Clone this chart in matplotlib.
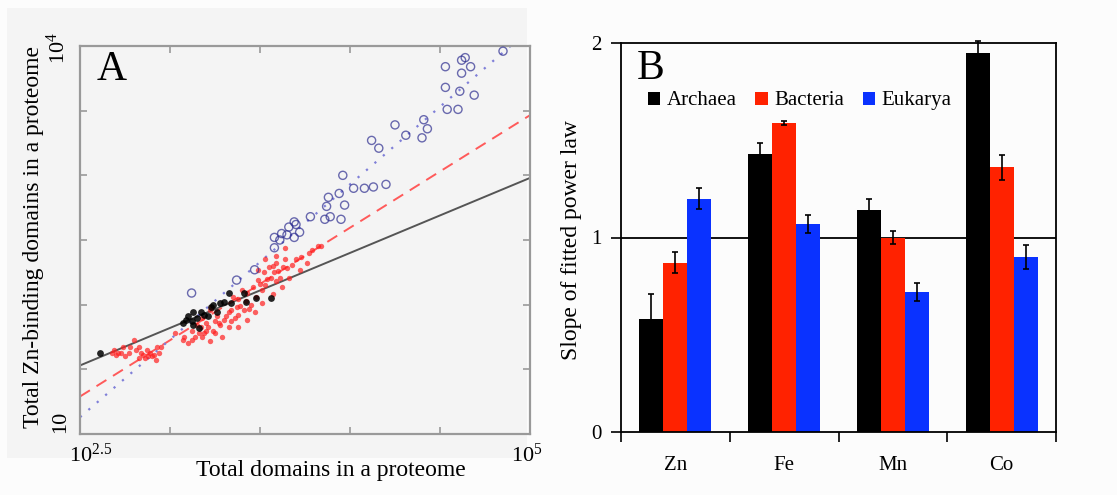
import numpy as np
import matplotlib.pyplot as plt
from matplotlib.patches import Rectangle, Patch
from matplotlib.ticker import NullLocator, FixedLocator
import matplotlib.transforms as mtransforms

plt.rcParams['font.family'] = ['Liberation Serif', 'DejaVu Serif']
plt.rcParams['mathtext.fontset'] = 'custom'
plt.rcParams['mathtext.rm'] = 'Liberation Serif'
plt.rcParams['mathtext.it'] = 'Liberation Serif:italic'

# ---- panel A data (log10 of total domains, log10 of Zn-binding domains)
arch_logx = [2.61, 3.09, 3.12, 3.13, 3.16, 3.13, 3.17, 3.19, 3.21, 3.23, 3.24, 3.28,
             3.30, 3.33, 3.34, 3.41, 3.42, 3.48, 3.56, 3.10, 3.15, 3.07, 3.26]
arch_logy = [1.63, 1.88, 1.87, 1.84, 1.82, 1.94, 1.94, 1.92, 1.91, 1.98, 2.00, 2.01,
             2.02, 2.09, 2.01, 2.09, 2.02, 2.05, 2.05, 1.91, 1.90, 1.86, 1.94]

bact_logx = [2.68, 2.69, 2.70, 2.71, 2.73, 2.74, 2.75, 2.77, 2.78, 2.80, 2.81, 2.83, 2.83,
             2.84, 2.85, 2.86, 2.87, 2.88, 2.89, 2.90, 2.91, 2.92, 2.93, 2.94, 2.95,
             3.03, 3.07, 3.08, 3.12, 3.12, 3.14, 3.16, 3.17, 3.18, 3.18,
             3.20, 3.20, 3.22, 3.23, 3.24, 3.25, 3.25, 3.27, 3.28, 3.29,
             3.31, 3.33, 3.33, 3.34, 3.34, 3.35, 3.37, 3.38, 3.38, 3.38,
             3.40, 3.41, 3.43, 3.43, 3.45, 3.46, 3.47, 3.48, 3.49, 3.49,
             3.51, 3.51, 3.52, 3.53, 3.53, 3.55, 3.56, 3.57, 3.58, 3.59,
             3.59, 3.59, 3.61, 3.62, 3.63, 3.64, 3.64, 3.66, 3.68, 3.70,
             3.72, 3.73, 3.76, 3.77, 3.79, 3.82, 3.84,
             3.15, 3.19, 3.21, 3.26, 3.30, 3.36, 3.39, 3.42, 3.44, 3.50,
             3.54, 3.57, 3.60, 3.65, 3.10, 3.22]
bact_logy = [1.63, 1.65, 1.61, 1.63, 1.63, 1.67, 1.60, 1.63, 1.67, 1.73, 1.65, 1.67, 1.59,
             1.63, 1.61, 1.59, 1.65, 1.60, 1.63, 1.60, 1.61, 1.57, 1.67, 1.63, 1.67,
             1.78, 1.73, 1.75, 1.73, 1.80, 1.75, 1.78, 1.83, 1.75, 1.90,
             1.86, 1.80, 1.96, 1.98, 1.80, 1.87, 1.78, 1.86, 1.84, 1.75,
             1.91, 1.94, 1.83, 1.87, 1.96, 2.06, 1.98, 1.92, 2.04, 1.83,
             2.11, 1.96, 2.09, 1.88, 2.00, 2.14, 1.94, 2.06, 2.19, 2.27,
             2.11, 2.01, 2.25, 2.15, 2.35, 2.29, 2.21, 2.08, 2.25, 2.32,
             2.18, 2.38, 2.21, 2.14, 2.29, 2.44, 2.35, 2.21, 2.31, 2.35,
             2.27, 2.37, 2.32, 2.40, 2.42, 2.45, 2.45,
             1.84, 1.78, 1.83, 1.91, 1.88, 1.90, 1.99, 2.03, 1.97, 2.16,
             2.20, 2.30, 2.26, 2.28, 1.70, 1.72]

euk_logx = [3.12, 3.37, 3.47, 3.58, 3.62, 3.66, 3.69, 3.70, 3.72, 3.69, 3.58, 3.61, 3.65,
            3.78, 3.86, 3.89, 3.95, 3.87, 3.88, 3.94, 3.97, 3.96, 4.02, 4.08, 4.13, 4.20,
            4.12, 4.16, 4.25, 4.31, 4.40, 4.41, 4.43, 4.54, 4.60, 4.53, 4.61, 4.69, 4.53,
            4.62, 4.62, 4.64, 4.67, 4.85]
euk_logy = [2.09, 2.19, 2.27, 2.52, 2.55, 2.60, 2.64, 2.62, 2.56, 2.52, 2.44, 2.50, 2.54,
            2.68, 2.66, 2.68, 2.66, 2.76, 2.83, 2.86, 2.77, 3.00, 2.90, 2.90, 2.91, 2.93,
            3.27, 3.21, 3.39, 3.31, 3.29, 3.43, 3.36, 3.51, 3.51, 3.68, 3.65, 3.62, 3.84,
            3.79, 3.89, 3.91, 3.84, 3.96]

# power law fits: log10(y) at log10(x)=2.5 (slopes are the Zn bars of panel B)
fit_intercept = [1.53, 1.29, 1.13]

# ---- panel B data
metals = ['Zn', 'Fe', 'Mn', 'Co']
archaea = [0.58, 1.43, 1.14, 1.95]
archaea_err = [0.13, 0.055, 0.06, 0.06]
bacteria = [0.87, 1.59, 1.00, 1.36]
bacteria_err = [0.055, 0.01, 0.033, 0.065]
eukarya = [1.20, 1.07, 0.72, 0.90]
eukarya_err = [0.055, 0.045, 0.047, 0.06]

W, H = 1117, 495
fig = plt.figure(figsize=(W / 100, H / 100), dpi=100, facecolor='#fcfcfc')
fig.add_artist(Rectangle((7 / W, 1 - 458 / H), 520 / W, 450 / H, transform=fig.transFigure,
                         facecolor='#f4f4f4', edgecolor='none', zorder=-5))

# ================= panel A
axA = fig.add_axes([80 / W, 1 - 434 / H, 450 / W, 388 / H])
axA.set_facecolor('none')
axA.set_xscale('log')
axA.set_yscale('log')

xx = np.logspace(2.5, 5, 60)
slopes = [archaea[0], bacteria[0], eukarya[0]]
axA.plot(xx, 10 ** (fit_intercept[0] + slopes[0] * (np.log10(xx) - 2.5)),
         color='#555555', lw=1.4, zorder=2)
axA.plot(xx, 10 ** (fit_intercept[1] + slopes[1] * (np.log10(xx) - 2.5)),
         color='#ff5a5a', lw=1.4, dashes=(6, 4), zorder=2)
axA.plot(xx, 10 ** (fit_intercept[2] + slopes[2] * (np.log10(xx) - 2.5)),
         color='#7f7fd8', lw=1.6, dashes=(1, 4), zorder=2)

axA.scatter(10 ** np.array(bact_logx), 10 ** np.array(bact_logy), s=15,
            color='#ff2020', alpha=0.7, lw=0, zorder=3)
axA.scatter(10 ** np.array(euk_logx), 10 ** np.array(euk_logy), s=34,
            facecolors='none', edgecolors='#2e2e90', alpha=0.7, lw=1.0, zorder=3)
axA.scatter(10 ** np.array(arch_logx), 10 ** np.array(arch_logy), s=24,
            color='black', alpha=0.85, lw=0, zorder=4)

axA.set_xlim(10 ** 2.5, 1e5)
axA.set_ylim(10, 1e4)
axA.xaxis.set_major_locator(FixedLocator(10 ** np.arange(2.5, 5.01, 0.5)))
axA.yaxis.set_major_locator(FixedLocator(10 ** np.arange(1, 4.01, 0.5)))
axA.xaxis.set_minor_locator(NullLocator())
axA.yaxis.set_minor_locator(NullLocator())
axA.set_xticklabels(['$10^{2.5}$', '', '', '', '', '$10^{5}$'])
axA.set_yticklabels(['10', '', '', '', '', '', '$10^{4}$'], rotation=90, va='center')
axA.tick_params(direction='in', length=5, width=1.2, color='#999999', top=True,
                right=True, labelsize=16, pad=7)
for s in axA.spines.values():
    s.set_color('#999999')
    s.set_linewidth(1.6)

xl = axA.get_xticklabels()
xl[0].set_transform(xl[0].get_transform() + mtransforms.ScaledTranslation(0.11, 0, fig.dpi_scale_trans))
xl[-1].set_transform(xl[-1].get_transform() + mtransforms.ScaledTranslation(-0.03, 0, fig.dpi_scale_trans))
yl = axA.get_yticklabels()
yl[0].set_transform(yl[0].get_transform() + mtransforms.ScaledTranslation(0, 0.12, fig.dpi_scale_trans))
yl[-1].set_transform(yl[-1].get_transform() + mtransforms.ScaledTranslation(0, -0.02, fig.dpi_scale_trans))

axA.set_xlabel('Total domains in a proteome', fontsize=17, va='center')
axA.xaxis.set_label_coords(0.558, -0.093)
axA.set_ylabel('Total Zn-binding domains in a proteome', fontsize=17, va='center')
axA.yaxis.set_label_coords(-0.104, 0.508)
axA.text(0.036, 0.912, 'A', transform=axA.transAxes, fontsize=30, va='baseline', ha='left')

# ================= panel B
axB = fig.add_axes([621 / W, 1 - 432 / H, 435 / W, 389 / H])
axB.set_facecolor('none')
x = np.arange(len(metals))
w = 0.22
axB.axhline(1, color='black', lw=1.3, zorder=1)
series = [(archaea, archaea_err, 'black', 'Archaea'),
          (bacteria, bacteria_err, '#ff2200', 'Bacteria'),
          (eukarya, eukarya_err, '#0a32ff', 'Eukarya')]
for k, (vals, errs, col, name) in enumerate(series):
    pos = x + (k - 1) * w
    axB.bar(pos, vals, width=w, color=col, zorder=2)
    eb = axB.errorbar(pos, vals, yerr=errs, fmt='none', ecolor='black', elinewidth=1.2,
                      capsize=2.5, capthick=1.2, zorder=3)
    for art in eb.lines[1] + eb.lines[2]:
        art.set_clip_on(False)

axB.set_xlim(-0.5, 3.5)
axB.set_ylim(0, 2)
axB.set_yticks([0, 1, 2])
axB.set_yticklabels(['0', '1', '2'])
axB.set_xticks([-0.5, 0.5, 1.5, 2.5, 3.5])
axB.set_xticklabels([])
axB.set_xticks(x, minor=True)
axB.set_xticklabels(metals, minor=True)
axB.tick_params(axis='both', which='major', direction='out', length=7, width=1.2,
                labelsize=15, pad=7)
axB.tick_params(axis='x', which='minor', length=0, labelsize=15, pad=17)
for s in axB.spines.values():
    s.set_color('black')
    s.set_linewidth(1.3)

axB.set_ylabel('Slope of fitted power law', fontsize=17, va='center')
axB.yaxis.set_label_coords(-0.113, 0.494)
axB.text(0.037, 0.907, 'B', transform=axB.transAxes, fontsize=30, va='baseline', ha='left')

handles = [Patch(facecolor=c, edgecolor='none', label=n) for _, _, c, n in series]
axB.legend(handles=handles, loc='center left', bbox_to_anchor=(0.062, 0.851), ncol=3,
           frameon=False, fontsize=15, handlelength=0.6, handleheight=0.6,
           handletextpad=0.3, columnspacing=0.9, borderpad=0, borderaxespad=0)

fig.savefig('out.png', dpi=100, facecolor=fig.get_facecolor())
